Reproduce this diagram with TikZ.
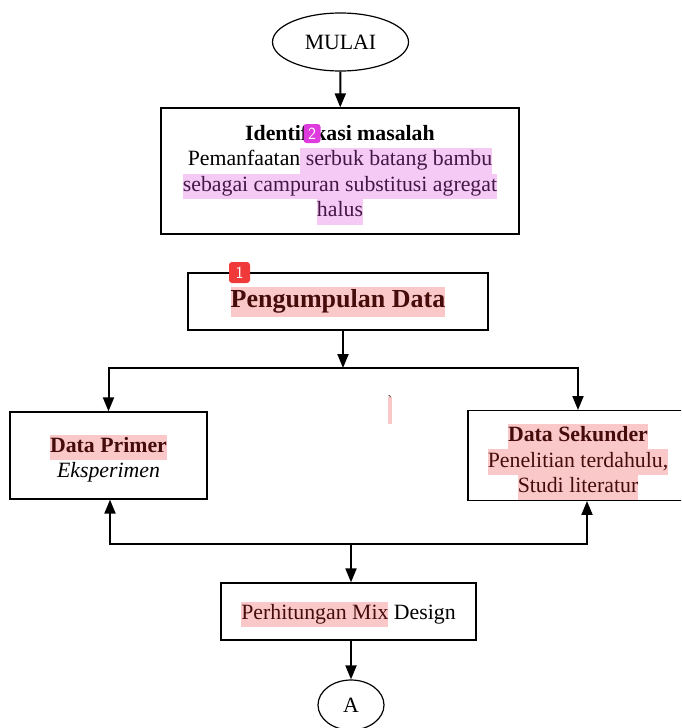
\documentclass[tikz,border=0pt]{standalone}
\usepackage{fontspec}
\setmainfont{Liberation Serif}
\usetikzlibrary{shapes,arrows.meta}

\definecolor{HLRed}{RGB}{250,200,200}
\definecolor{HLRedInk}{RGB}{70,12,12}
\definecolor{HLPink}{RGB}{245,202,245}
\definecolor{HLPinkInk}{RGB}{70,22,70}
\definecolor{NoteRed}{RGB}{240,58,58}
\definecolor{NotePink}{RGB}{222,58,222}

\setlength{\fboxsep}{0pt}
\newcommand{\hlr}[1]{\colorbox{HLRed}{\strut\color{HLRedInk}#1}}
\newcommand{\hlp}[1]{\colorbox{HLPink}{\strut\color{HLPinkInk}#1}}

\begin{document}
\begin{tikzpicture}[x=1pt, y=-1pt, font=\fontsize{21.8}{25.5}\selectfont]
			\tikzstyle{Terminal} 	= [ellipse, draw, line width=1.2pt, inner sep=0pt]
			\tikzstyle{Process}	= [rectangle, draw, line width=1.3pt, inner sep=0pt, align=center]
			\tikzstyle{Flow}		= [line width=2pt, -{Triangle[length=14pt, width=11pt]}]
			\tikzstyle{Note}		= [rectangle, rounded corners=3pt, inner sep=0pt, minimum width=21pt, minimum height=21pt, text=white, font=\sffamily\fontsize{17}{17}\selectfont]
			
			\useasboundingbox (0,0) rectangle (681,728);
			\clip (0,0) rectangle (681,728);
			
			\node (mulai) at (340.5, 42) [Terminal, minimum width=136pt, minimum height=58pt] {MULAI};
			\node (ident) at (340, 171) [Process, minimum width=358pt, minimum height=126pt] {\rule{0pt}{23pt}\textbf{Identifikasi masalah}\\Pemanfaatan\hlp{\ serbuk batang bambu}\\\hlp{sebagai campuran substitusi agregat}\\\hlp{halus}};
			\node (kumpul) at (338, 301.5) [Process, minimum width=300pt, minimum height=57pt, font=\fontsize{26}{30}\selectfont] {\hlr{\textbf{Pengumpulan Data}}};
			\node (primer) at (108.5, 455.5) [Process, minimum width=197pt, minimum height=87pt] {\rule{0pt}{24pt}\hlr{\textbf{Data Primer}}\\\textit{Eksperimen}};
			\node (sekunder) at (578, 455.5) [Process, minimum width=220pt, minimum height=87pt] {\rule{0pt}{31pt}\hlr{\textbf{Data Sekunder}}\\\hlr{Penelitian terdahulu,}\\\hlr{Studi literatur}};
			\node (mix) at (348.5, 611.5) [Process, minimum width=255pt, minimum height=57pt] {\rule{0pt}{24pt}\hlr{Perhitungan Mix} Design};
			\node (A) at (351, 705) [Terminal, minimum width=66pt, minimum height=50pt] {A};
			\node (tick) at (390, 410.5) [inner sep=0pt] {\colorbox{HLRed}{\rule{0pt}{27pt}\color{HLRedInk}\raisebox{19pt}[0pt][0pt]{\fontsize{14}{14}\selectfont\textasciigrave}}};
			
			\coordinate (split) at (343, 368);
			\coordinate (sL) at (108.5, 368);
			\coordinate (sR) at (578, 368);
			\coordinate (jM) at (351, 544);
			\coordinate (jL) at (110, 544);
			\coordinate (jR) at (587, 544);
			
			\draw [Flow] (mulai) to (ident);
			\draw [Flow] (split |- kumpul.south) to (split);
			\draw [Flow] (split) -- (sL) -- (primer.north);
			\draw [Flow] (split) -- (sR) -- (sekunder.north);
			\draw [Flow] (jM) -- (jL) -- (jL |- primer.south);
			\draw [Flow] (jM) -- (jR) -- (jR |- sekunder.south);
			\draw [Flow] (jM) to (jM |- mix.north);
			\draw [Flow] (A |- mix.south) to (A.north);
			
			\node (note1) at (239.5, 272.5) [Note, fill=NoteRed] {1};
			\node (note2) at (312, 133.5) [Note, fill=NotePink, minimum width=17pt, minimum height=19pt] {2};
		\end{tikzpicture}
\end{document}
